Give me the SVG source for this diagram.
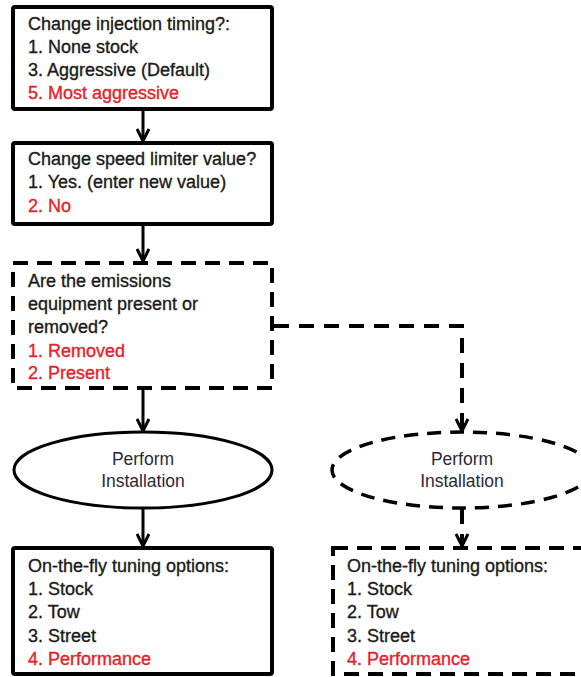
<svg xmlns="http://www.w3.org/2000/svg" width="581" height="677" viewBox="0 0 581 677">
<style>
  .box{fill:#fff;stroke:#000;stroke-width:4;}
  .dbox{fill:#fff;stroke:#000;stroke-width:4;stroke-dasharray:15 9;}
  .ell{fill:#fff;stroke:#000;stroke-width:3;}
  .dell{fill:#fff;stroke:#000;stroke-width:3.5;stroke-dasharray:14 9;}
  .t{font-family:"Liberation Sans",Arial,sans-serif;font-size:18px;fill:#1a1a1a;stroke:#1a1a1a;stroke-width:0.35;}
  .r{fill:#e8202a;stroke:#e8202a;}
  .c{font-family:"Liberation Sans",Arial,sans-serif;font-size:17.5px;fill:#2a2a3a;text-anchor:middle;}
  .ln{fill:none;stroke:#000;stroke-width:3;}
  .dln{fill:none;stroke:#000;stroke-width:4;stroke-dasharray:15 10;}
</style>
<defs>
  <marker id="ah" viewBox="0 0 14 14" refX="13" refY="7" markerWidth="14" markerHeight="14" markerUnits="userSpaceOnUse" orient="auto">
    <path d="M1,1 L13,7 L1,13" fill="none" stroke="#000" stroke-width="3"/>
  </marker>
</defs>
<rect width="581" height="677" fill="#fff"/>
<g id="connectors">
  <line class="ln" x1="143" y1="110" x2="143" y2="141" marker-end="url(#ah)"/>
  <line class="ln" x1="143" y1="225" x2="143" y2="261" marker-end="url(#ah)"/>
  <line class="ln" x1="143" y1="390" x2="143" y2="431" marker-end="url(#ah)"/>
  <line class="ln" x1="143" y1="509" x2="143" y2="546" marker-end="url(#ah)"/>
  <path class="dln" d="M274,326 L462,326 L462,431" marker-end="url(#ah)"/>
  <line class="dln" x1="462" y1="509" x2="462" y2="546" stroke-dasharray="12 6" marker-end="url(#ah)"/>
</g>
<g id="node-injection">
  <rect class="box" x="13" y="7" width="259" height="102" rx="2"/>
  <text class="t" x="28" y="30">Change injection timing?:</text>
  <text class="t" x="28" y="53">1. None stock</text>
  <text class="t" x="28" y="76">3. Aggressive (Default)</text>
  <text class="t r" x="28" y="99">5. Most aggressive</text>
</g>
<g id="node-speed">
  <rect class="box" x="13" y="143" width="259" height="81" rx="2"/>
  <text class="t" x="28" y="165">Change speed limiter value?</text>
  <text class="t" x="28" y="188">1. Yes. (enter new value)</text>
  <text class="t r" x="28" y="212">2. No</text>
</g>
<g id="node-emissions">
  <rect class="dbox" x="13" y="263" width="259" height="125"/>
  <text class="t" x="28" y="287">Are the emissions</text>
  <text class="t" x="28" y="310">equipment present or</text>
  <text class="t" x="28" y="333">removed?</text>
  <text class="t r" x="28" y="357">1. Removed</text>
  <text class="t r" x="28" y="379">2. Present</text>
</g>
<g id="node-install-left">
  <ellipse class="ell" cx="143" cy="470" rx="129" ry="38"/>
  <text class="c" x="143" y="465">Perform</text>
  <text class="c" x="143" y="487">Installation</text>
</g>
<g id="node-install-right">
  <ellipse class="dell" cx="462" cy="470" rx="130" ry="38"/>
  <text class="c" x="462" y="465">Perform</text>
  <text class="c" x="462" y="487">Installation</text>
</g>
<g id="node-tuning-left">
  <rect class="box" x="13" y="548" width="259" height="126" rx="2"/>
  <text class="t" x="28" y="572">On-the-fly tuning options:</text>
  <text class="t" x="28" y="595">1. Stock</text>
  <text class="t" x="28" y="618">2. Tow</text>
  <text class="t" x="28" y="642">3. Street</text>
  <text class="t r" x="28" y="665">4. Performance</text>
</g>
<g id="node-tuning-right">
  <rect class="dbox" x="333" y="548" width="262" height="126"/>
  <text class="t" x="347" y="572">On-the-fly tuning options:</text>
  <text class="t" x="347" y="595">1. Stock</text>
  <text class="t" x="347" y="618">2. Tow</text>
  <text class="t" x="347" y="642">3. Street</text>
  <text class="t r" x="347" y="665">4. Performance</text>
</g>
</svg>
